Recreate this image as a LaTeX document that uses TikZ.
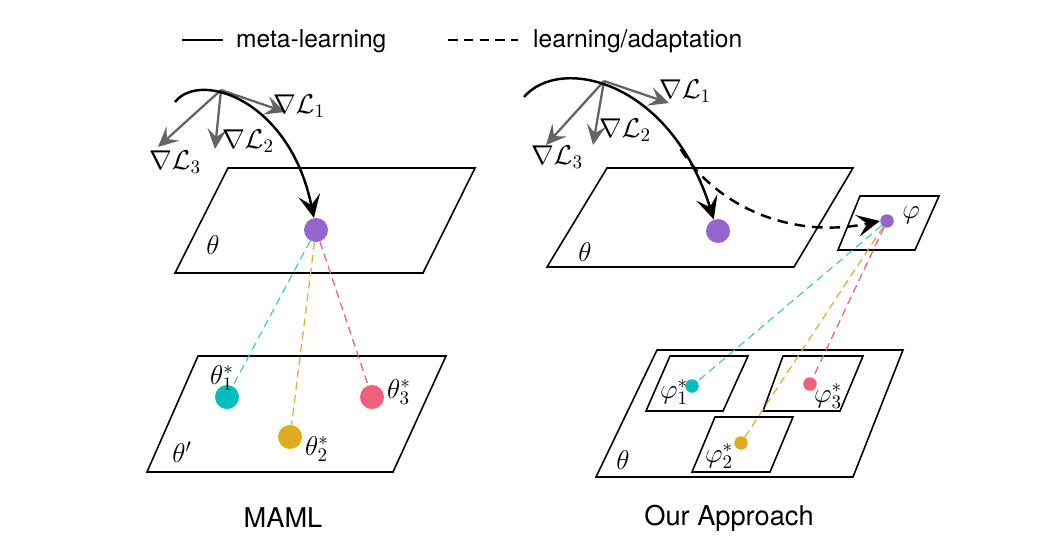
\documentclass[tikz,border=0pt]{standalone}
\usepackage{fix-cm}
\usepackage{fontspec}
\newfontfamily\heros{TeX Gyre Heros}
\usetikzlibrary{arrows.meta}
\definecolor{dotpurple}{RGB}{150,100,205}
\definecolor{dotcyan}{RGB}{0,190,190}
\definecolor{dotgold}{RGB}{222,172,32}
\definecolor{dotpink}{RGB}{240,96,122}
\definecolor{linkcyan}{RGB}{80,196,200}
\definecolor{linkgold}{RGB}{222,172,60}
\definecolor{linkpink}{RGB}{228,100,122}
\definecolor{gradgray}{RGB}{100,100,100}
\tikzset{
  plane/.style={line width=0.9pt},
  bigdot/.style={circle,inner sep=0pt,minimum size=0.48cm},
  smalldot/.style={circle,inner sep=0pt,minimum size=0.27cm},
  grad/.style={gradgray,line width=1.3pt,-{Stealth[length=4mm,width=3.8mm,inset=1.6mm]}},
  meta/.style={line width=1.4pt,-{Stealth[length=4.6mm,width=4.4mm,inset=2mm]}},
  adapt/.style={meta,dash pattern=on 6pt off 4pt},
  link/.style={line width=0.7pt,dash pattern=on 4.5pt off 2.8pt},
  lbl/.style={font=\fontsize{15.5}{18}\selectfont},
  legend/.style={anchor=west,font=\heros\fontsize{14}{16}\selectfont},
  caption/.style={font=\heros\fontsize{15.5}{18}\selectfont}
}

\begin{document}
\begin{tikzpicture}[x=0.02cm,y=-0.02cm]
  \useasboundingbox (0,0) rectangle (1051,552);
  % legend
  \coordinate (ms) at (182,40); \coordinate (me) at (223,40);
  \coordinate (as) at (448,40); \coordinate (ae) at (518,40);
  \draw[line width=1.4pt] (ms) -- (me);
  \draw[line width=1.4pt,dash pattern=on 5.5pt off 3.5pt] (as) -- (ae);
  \node[legend] (lm) at (230,41) {meta-learning};
  \node[legend] (la) at (527,41) {learning/adaptation};

  % MAML
  \draw[plane] (228,168) -- (475,168) -- (423,273) -- (175,273) -- cycle;
  \draw[plane] (198,356) -- (446,356) -- (393,472) -- (147,472) -- cycle;
  \node[bigdot,fill=dotpurple] (thL) at (316,230) {};
  \node[bigdot,fill=dotcyan] (t1) at (227,397) {};
  \node[bigdot,fill=dotgold] (t2) at (290,437) {};
  \node[bigdot,fill=dotpink] (t3) at (372,397) {};
  \draw[link,linkcyan] (thL) -- (t1);
  \draw[link,linkgold] (thL) -- (t2);
  \draw[link,linkpink] (thL) -- (t3);
  \coordinate (gL) at (221,90);
  \coordinate (gL1) at (285,112);
  \coordinate (gL2) at (215,149);
  \coordinate (gL3) at (158,147);
  \draw[grad] (gL) -- (gL1);
  \draw[grad] (gL) -- (gL2);
  \draw[grad] (gL) -- (gL3);
  \draw[meta] (175,102) .. controls (200,70) and (290,100) .. (thL.100);
  \node[lbl] (nL1) at (299,106) {$\nabla\mathcal{L}_1$};
  \node[lbl] (nL2) at (248,141) {$\nabla\mathcal{L}_2$};
  \node[lbl] (nL3) at (175,162) {$\nabla\mathcal{L}_3$};
  \node[lbl] at (213,245) {$\theta$};
  \node[lbl] at (182,452) {$\theta'$};
  \node[lbl] at (222,378) {$\theta_1^*$};
  \node[lbl] at (317,449) {$\theta_2^*$};
  \node[lbl] at (399,392) {$\theta_3^*$};
  \node[caption] (maml) at (283,518) {MAML};

  % our approach
  \draw[plane] (607,168) -- (853,168) -- (794,267) -- (547,267) -- cycle;
  \draw[plane] (860,196) -- (939,196) -- (915,250) -- (838,250) -- cycle;
  \draw[plane] (657,350) -- (903,350) -- (853,477) -- (596,477) -- cycle;
  \draw[plane] (670,356) -- (748,356) -- (723,411) -- (646,411) -- cycle;
  \draw[plane] (783,356) -- (863,356) -- (840,411) -- (763,411) -- cycle;
  \draw[plane] (715,417) -- (793,417) -- (770,472) -- (692,472) -- cycle;
  \node[bigdot,fill=dotpurple] (thR) at (718,231) {};
  \node[smalldot,fill=dotpurple] (phi) at (887,221) {};
  \node[smalldot,fill=dotcyan] (p1) at (692,386) {};
  \node[smalldot,fill=dotgold] (p2) at (741,443) {};
  \node[smalldot,fill=dotpink] (p3) at (810,384) {};
  \draw[link,linkcyan] (phi) -- (p1);
  \draw[link,linkgold] (phi) -- (p2);
  \draw[link,linkpink] (phi) -- (p3);
  \coordinate (gR) at (604,81);
  \coordinate (gR1) at (669,103);
  \coordinate (gR2) at (593,145);
  \coordinate (gR3) at (546,145);
  \draw[grad] (gR) -- (gR1);
  \draw[grad] (gR) -- (gR2);
  \draw[grad] (gR) -- (gR3);
  \draw[meta] (524,97) .. controls (560,55) and (670,80) .. (thR.110) coordinate[pos=0.8] (split);
  \draw[adapt] (split) .. controls (715,205) and (790,240) .. (phi.west);
  \node[lbl] (nR1) at (685,91) {$\nabla\mathcal{L}_1$};
  \node[lbl] (nR2) at (625,130) {$\nabla\mathcal{L}_2$};
  \node[lbl] (nR3) at (557,157) {$\nabla\mathcal{L}_3$};
  \node[lbl] at (585,252) {$\theta$};
  \node[lbl] at (911,215) {$\varphi$};
  \node[lbl] at (623,460) {$\theta$};
  \node[lbl] at (674,392) {$\varphi_1^*$};
  \node[lbl] at (719,456) {$\varphi_2^*$};
  \node[lbl] at (828,396) {$\varphi_3^*$};
  \node[caption] (ours) at (729,518) {Our Approach};
\end{tikzpicture}
\end{document}
